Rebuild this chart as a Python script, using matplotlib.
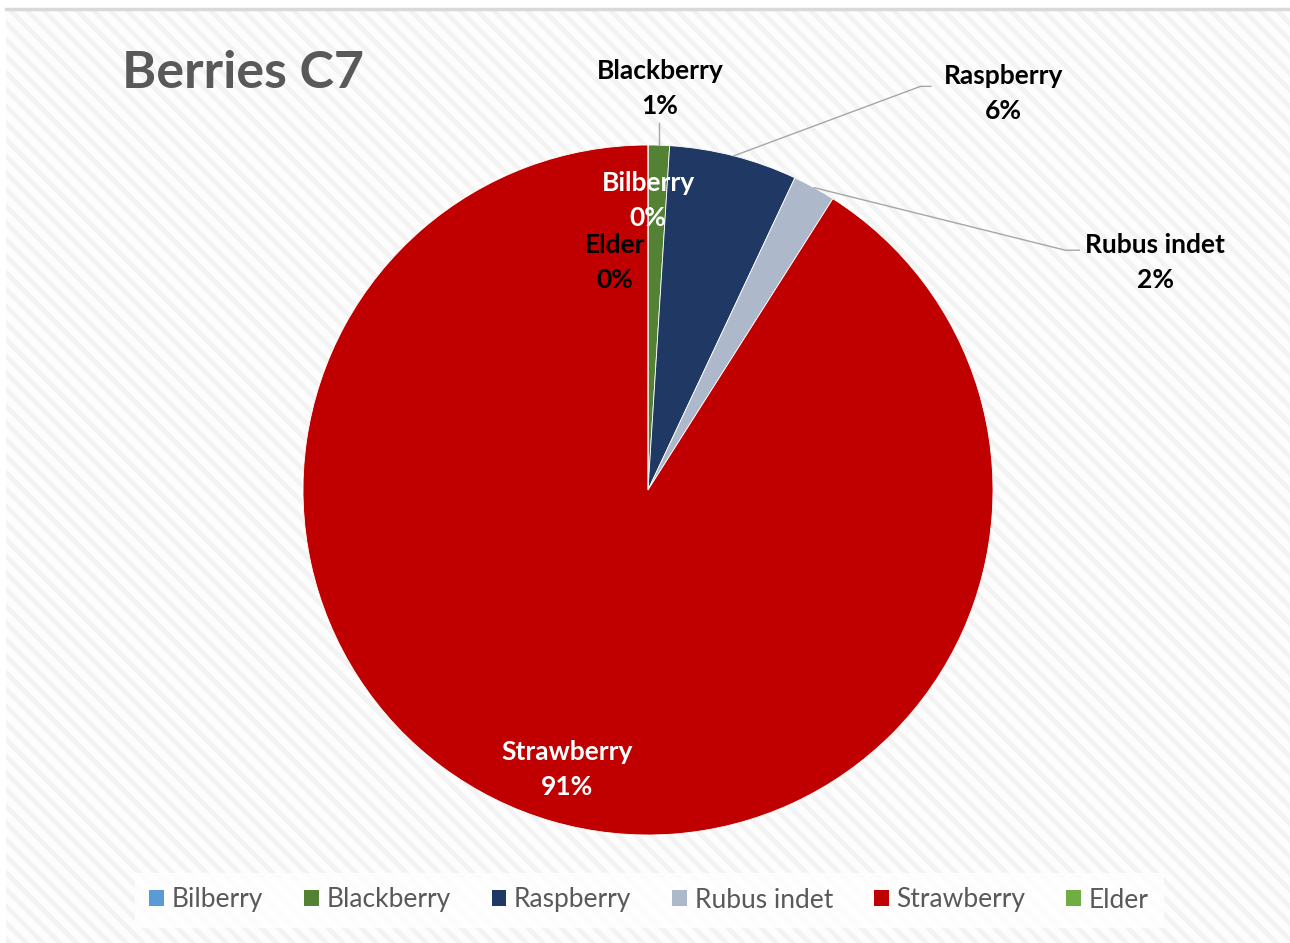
import matplotlib
matplotlib.use("Agg")
import matplotlib.pyplot as plt
from matplotlib.patches import Rectangle
from matplotlib.lines import Line2D
import numpy as np

plt.rcParams['font.family'] = ['Lato', 'DejaVu Sans']

# berry counts (percent of total)
berries = ["Bilberry", "Blackberry", "Raspberry", "Rubus indet", "Strawberry", "Elder"]
shares = [0, 1, 6, 2, 91, 0]
colors = ["#5b9bd5", "#548235", "#203864", "#adb9ca", "#c00000", "#70ad47"]

# where each data label sits (data units, pie radius = 1) and its text colour
label_pos = {
    "Bilberry": (0.0, 0.84),
    "Blackberry": (0.035, 1.165),
    "Raspberry": (1.03, 1.15),
    "Rubus indet": (1.47, 0.66),
    "Strawberry": (-0.235, -0.81),
    "Elder": (-0.095, 0.66),
}
label_color = {"Bilberry": "white", "Strawberry": "white"}
leaders = {"Blackberry", "Raspberry", "Rubus indet"}

W, H = 1290, 943
fig = plt.figure(figsize=(W / 100, H / 100), dpi=100)
fig.patch.set_facecolor("white")

# striped chart area
plt.rcParams['hatch.color'] = "#f3f3f3"
plt.rcParams['hatch.linewidth'] = 3.5
bg = Rectangle((6 / W, 0), 1 - 6 / W, 1 - 9 / H, transform=fig.transFigure,
               facecolor="#fdfdfd", edgecolor="#f3f3f3", hatch="\\\\", lw=0, zorder=-5)
fig.patches.append(bg)
fig.add_artist(Line2D([6 / W, 1], [1 - 9 / H, 1 - 9 / H], transform=fig.transFigure,
                      color="#d9d9d9", lw=2.5, zorder=-4))

cx, cy, R = 648, H - 490, 345
ax = fig.add_axes([0, 0, 1, 1])
ax.patch.set_alpha(0)

wedges, _ = ax.pie(shares, colors=colors, startangle=90, counterclock=False,
                   radius=1, center=(0, 0),
                   wedgeprops=dict(edgecolor="white", linewidth=0.6))
ax.set_xlim(-cx / R, (W - cx) / R)
ax.set_ylim(-cy / R, (H - cy) / R)
ax.set_aspect("equal")
ax.axis("off")

total = float(sum(shares))
for name, w, v in zip(berries, wedges, shares):
    lx, ly = label_pos[name]
    ax.text(lx, ly, f"{name}\n{v / total * 100:.0f}%", ha="center", va="center",
            fontsize=19, fontweight="bold", linespacing=1.55,
            color=label_color.get(name, "black"), zorder=5)
    if name in leaders:
        mid = np.deg2rad((w.theta1 + w.theta2) / 2)
        ex, ey = np.cos(mid), np.sin(mid)
        if name == "Blackberry":
            ax.plot([ex, ex], [ey, ly - 0.1], color="#a6a6a6", lw=1, zorder=4)
        elif name == "Raspberry":
            ax.plot([ex, lx - 0.24, lx - 0.21], [ey, ly + 0.02, ly + 0.02],
                    color="#a6a6a6", lw=1, zorder=4)
        else:
            ax.plot([ex, lx - 0.26, lx - 0.22], [ey, ly + 0.035, ly + 0.035],
                    color="#a6a6a6", lw=1, zorder=4)

fig.text(122 / W, 1 - 88 / H, "Berries C7", fontsize=37.5, fontweight="bold",
         color="#595959", va="baseline", ha="left")

handles = [Rectangle((0, 0), 1, 1, facecolor=c, edgecolor="none") for c in colors]
leg = fig.legend(handles, berries, loc="center", bbox_to_anchor=(649 / W, 43 / H),
                 ncol=6, frameon=True, fontsize=19, handlelength=0.55, handleheight=0.55,
                 handletextpad=0.3, columnspacing=1.55, borderpad=0.55,
                 fancybox=False)
leg.get_frame().set_facecolor("white")
leg.get_frame().set_edgecolor("white")
for t in leg.get_texts():
    t.set_color("#595959")

fig.savefig("out.png", dpi=100, facecolor=fig.get_facecolor())
